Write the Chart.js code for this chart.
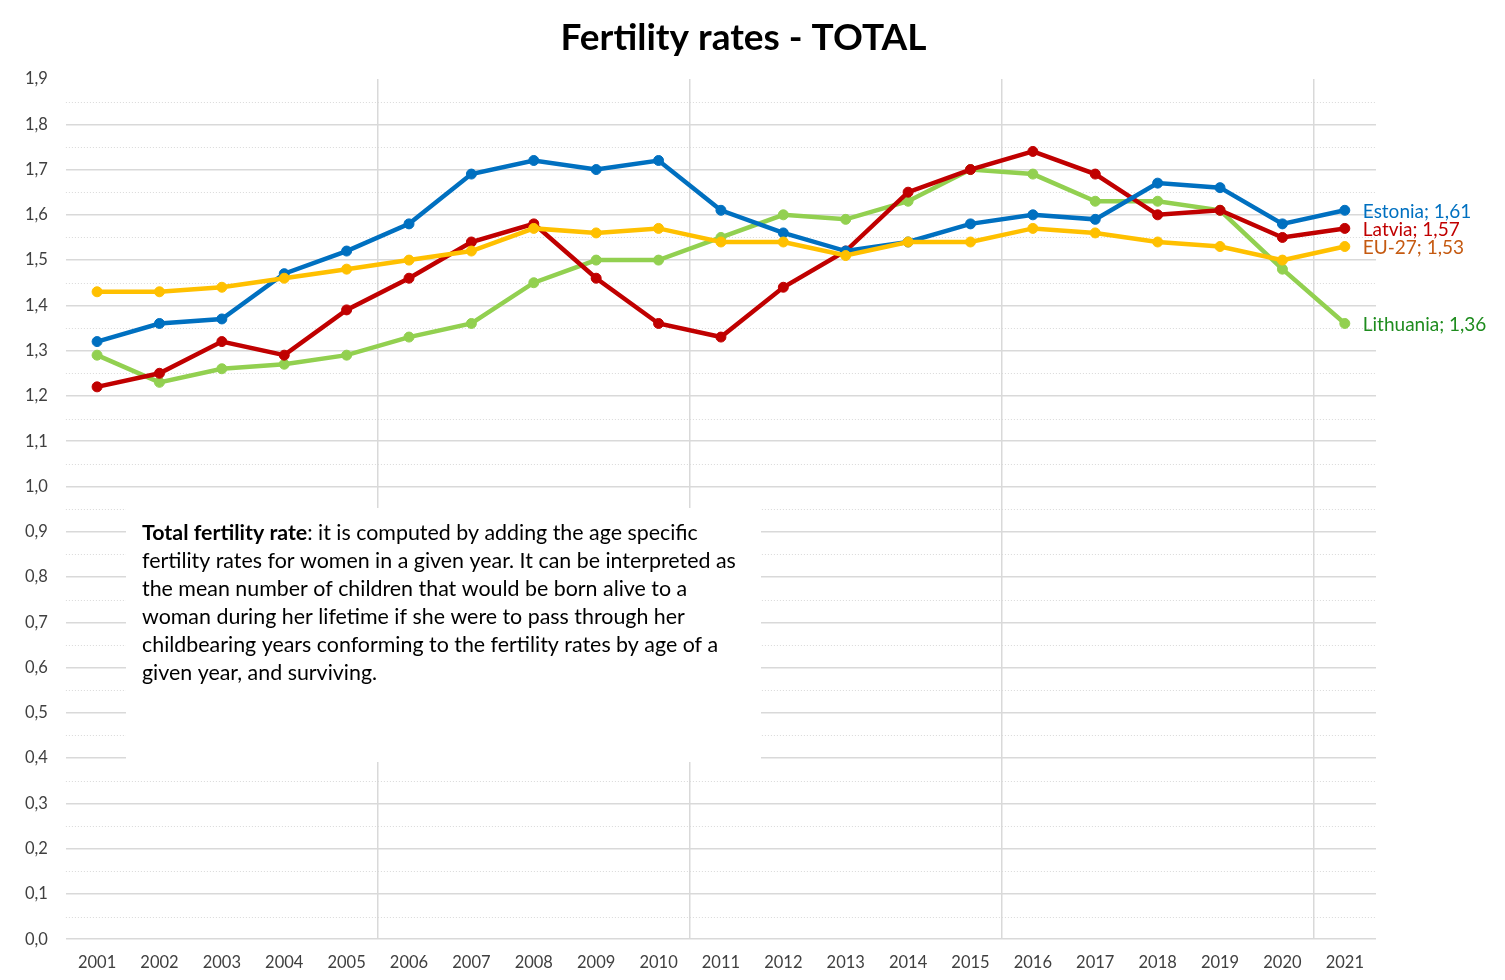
<!DOCTYPE html>
<html>
<head>
<meta charset="utf-8">
<script src="https://cdn.jsdelivr.net/npm/chart.js@4.4.0/dist/chart.umd.min.js"></script>
<style>
  html, body { margin: 0; padding: 0; background: #fff; }
  #wrap { width: 1505px; height: 980px; }
</style>
</head>
<body>
<div id="wrap"><canvas id="fertility"></canvas></div>
<script>
const years = ['2001', '2002', '2003', '2004', '2005', '2006', '2007', '2008', '2009', '2010', '2011',
               '2012', '2013', '2014', '2015', '2016', '2017', '2018', '2019', '2020', '2021'];

const eu27      = [1.43, 1.43, 1.44, 1.46, 1.48, 1.50, 1.52, 1.57, 1.56, 1.57, 1.54, 1.54, 1.51, 1.54, 1.54, 1.57, 1.56, 1.54, 1.53, 1.50, 1.53];
const estonia   = [1.32, 1.36, 1.37, 1.47, 1.52, 1.58, 1.69, 1.72, 1.70, 1.72, 1.61, 1.56, 1.52, 1.54, 1.58, 1.60, 1.59, 1.67, 1.66, 1.58, 1.61];
const latvia    = [1.22, 1.25, 1.32, 1.29, 1.39, 1.46, 1.54, 1.58, 1.46, 1.36, 1.33, 1.44, 1.52, 1.65, 1.70, 1.74, 1.69, 1.60, 1.61, 1.55, 1.57];
const lithuania = [1.29, 1.23, 1.26, 1.27, 1.29, 1.33, 1.36, 1.45, 1.50, 1.50, 1.55, 1.60, 1.59, 1.63, 1.70, 1.69, 1.63, 1.63, 1.61, 1.48, 1.36];

const FONT = 'Lato, "Open Sans", sans-serif';
const TITLE = 'Fertility rates - TOTAL';

const noteLines = [
  [{ t: 'Total fertility rate', b: true }, { t: ': it is computed by adding the age specific' }],
  [{ t: 'fertility rates for women in a given year. It can be interpreted as' }],
  [{ t: 'the mean number of children that would be born alive to a' }],
  [{ t: 'woman during her lifetime if she were to pass through her' }],
  [{ t: 'childbearing years conforming to the fertility rates by age of a' }],
  [{ t: 'given year, and surviving.' }]
];

function series(label, data, color, labelColor, dy) {
  return {
    label: label,
    data: data,
    borderColor: color,
    backgroundColor: color,
    pointBackgroundColor: color,
    pointBorderColor: color,
    borderWidth: 4.5,
    pointRadius: 5,
    pointBorderWidth: 1,
    tension: 0,
    labelColor: labelColor,
    labelDy: dy
  };
}

const fmt = v => v.toFixed(2).replace('.', ',');

// title centred on the whole canvas, not on the padded box
const titlePlugin = {
  id: 'pageTitle',
  afterDraw(chart) {
    const { ctx } = chart;
    ctx.save();
    ctx.font = 'bold 37px ' + FONT;
    ctx.fillStyle = '#000';
    ctx.textAlign = 'center';
    ctx.textBaseline = 'middle';
    ctx.fillText(TITLE, chart.width / 2 - 9, 38);
    ctx.restore();
  }
};

// dotted minor lines + the note box
const notePlugin = {
  id: 'note',
  beforeDatasetsDraw(chart) {
    const { ctx, chartArea, scales } = chart;
    ctx.save();
    ctx.strokeStyle = '#d9d9d9';
    ctx.lineWidth = 1;
    ctx.setLineDash([1, 2]);
    for (let v = 0.05; v < 1.9; v += 0.1) {
      const y = Math.round(scales.y.getPixelForValue(v)) + 0.5;
      ctx.beginPath();
      ctx.moveTo(chartArea.left, y);
      ctx.lineTo(chartArea.right, y);
      ctx.stroke();
    }
    ctx.setLineDash([]);

    ctx.fillStyle = '#ffffff';
    ctx.fillRect(126, 508, 635, 254);

    // size the text so the longest line is about 594px wide
    ctx.font = '20px ' + FONT;
    const size = 20 * 594 / ctx.measureText(noteLines[1][0].t).width;

    ctx.fillStyle = '#000000';
    ctx.textBaseline = 'middle';
    let y = 533;
    noteLines.forEach(line => {
      let x = 142;
      line.forEach(part => {
        ctx.font = (part.b ? 'bold ' : '') + size.toFixed(2) + 'px ' + FONT;
        ctx.fillText(part.t, x, y);
        x += ctx.measureText(part.t).width;
      });
      y += 28;
    });
    ctx.restore();
  }
};

// series name and last value at the end of each line
const endLabels = {
  id: 'endLabels',
  afterDatasetsDraw(chart) {
    const { ctx } = chart;
    ctx.save();
    ctx.font = '19px ' + FONT;
    ctx.textBaseline = 'middle';
    chart.data.datasets.forEach((ds, i) => {
      const meta = chart.getDatasetMeta(i);
      const pt = meta.data[meta.data.length - 1];
      ctx.fillStyle = ds.labelColor;
      ctx.fillText(ds.label + '; ' + fmt(ds.data[ds.data.length - 1]), pt.x + 18, pt.y + ds.labelDy);
    });
    ctx.restore();
  }
};

new Chart(document.getElementById('fertility'), {
  type: 'line',
  data: {
    labels: years,
    datasets: [
      series('EU-27', eu27, '#FFC000', '#C55A11', 1),
      series('Estonia', estonia, '#0070C0', '#0070C0', 2),
      series('Latvia', latvia, '#C00000', '#C00000', 1),
      series('Lithuania', lithuania, '#92D050', '#1E8C1E', 1)
    ]
  },
  options: {
    responsive: true,
    maintainAspectRatio: false,
    animation: false,
    layout: { padding: { left: 7, right: 129, top: 79, bottom: -7 } },
    plugins: {
      legend: { display: false },
      tooltip: { enabled: false },
      title: { display: false }
    },
    scales: {
      x: {
        offset: true,
        grid: {
          offset: true,
          drawTicks: false,
          lineWidth: 1.5,
          color: ctx => [5, 10, 15, 20].includes(ctx.index) ? '#d9d9d9' : 'transparent'
        },
        border: { display: false },
        ticks: { color: '#404040', font: { family: FONT, size: 16.5 }, padding: 14, maxRotation: 0, autoSkip: false }
      },
      y: {
        min: 0,
        max: 1.9,
        grid: {
          drawTicks: false,
          lineWidth: 1.5,
          color: ctx => (ctx.tick && Math.abs(ctx.tick.value - 1.9) < 1e-6) ? 'transparent' : '#d9d9d9'
        },
        border: { display: false },
        ticks: {
          stepSize: 0.1,
          padding: 18,
          color: '#404040',
          font: { family: FONT, size: 16.5 },
          callback: v => v.toFixed(1).replace('.', ',')
        }
      }
    }
  },
  plugins: [notePlugin, endLabels, titlePlugin]
});
</script>
</body>
</html>
